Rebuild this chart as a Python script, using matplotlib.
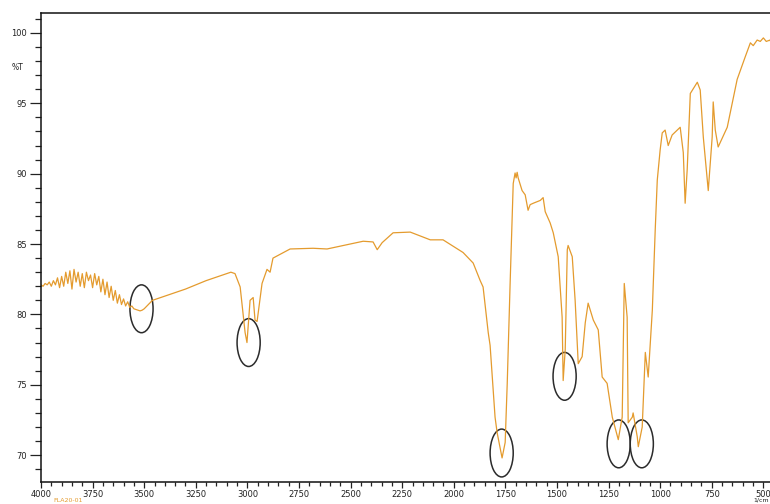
import matplotlib
matplotlib.use("Agg")
import matplotlib.pyplot as plt
from matplotlib.patches import Ellipse
from matplotlib.ticker import MultipleLocator

# ---- spectrum data (wavenumber cm-1, %T) ----
wavenumber = [
    4000, 3990, 3980, 3970, 3960, 3950, 3940, 3930, 3920, 3910, 3900, 3890, 3880, 3870,
    3860, 3850, 3840, 3830, 3820, 3810, 3800, 3790, 3780, 3770, 3760, 3750, 3740, 3730,
    3720, 3710, 3700, 3690, 3680, 3670, 3660, 3650, 3640, 3630, 3620, 3610, 3600, 3590,
    3580, 3570, 3560, 3550, 3540, 3530, 3520, 3510, 3500, 3480, 3460, 3440,
    3400, 3300, 3200, 3100, 3080, 3060, 3035, 3011, 3002, 2987, 2972, 2963, 2953, 2929,
    2905, 2890, 2876, 2793, 2682, 2614, 2439, 2391, 2371, 2347, 2294, 2211, 2114, 2052,
    1955, 1906, 1872, 1858, 1833, 1824, 1800, 1790, 1766, 1751, 1741, 1727, 1712, 1703,
    1698, 1693, 1688, 1669, 1654, 1640, 1630, 1615, 1581, 1567, 1557, 1533, 1518, 1494,
    1475, 1470, 1460, 1450, 1446, 1426, 1412, 1397, 1378, 1363, 1349, 1324, 1300, 1281,
    1257, 1232, 1203, 1184, 1174, 1160, 1155, 1135, 1131, 1111, 1106, 1087, 1072, 1058,
    1038, 1024, 1014, 1000, 990, 976, 961, 942, 903, 888, 879, 869, 854, 820, 806, 791,
    767, 748, 743, 733, 719, 675, 627, 588, 563, 549, 530, 515, 500, 486, 467, 457,
]
transmittance = [
    82.1, 82.0, 82.2, 82.1, 82.3, 82.0, 82.4, 82.1, 82.6, 81.9, 82.7, 82.0, 83.0, 82.2,
    83.1, 81.8, 83.2, 82.3, 83.0, 82.0, 82.9, 81.9, 83.0, 82.4, 82.8, 81.9, 82.9, 82.1,
    82.7, 81.6, 82.5, 81.4, 82.3, 81.2, 82.0, 81.0, 81.7, 80.8, 81.4, 80.7, 81.1, 80.6,
    80.9, 80.5, 80.6, 80.4, 80.35, 80.3, 80.25, 80.3, 80.4, 80.7, 81.0, 81.1,
    81.3, 81.8, 82.4, 82.9, 83.0, 82.9, 81.95, 78.7, 78.0, 81.0, 81.2, 79.6, 79.5, 82.2,
    83.2, 83.0, 84.0, 84.65, 84.7, 84.65, 85.2, 85.15, 84.6, 85.1, 85.8, 85.85, 85.3, 85.3,
    84.4, 83.65, 82.4, 81.95, 78.7, 77.8, 72.7, 71.6, 69.8, 70.9, 75.1, 82.2, 89.3, 90.05,
    89.7, 90.1, 89.7, 88.8, 88.5, 87.4, 87.8, 87.9, 88.1, 88.3, 87.3, 86.5, 85.8, 84.1,
    79.8, 75.3, 77.5, 84.6, 84.9, 84.1, 81.0, 76.5, 77.0, 79.4, 80.8, 79.6, 78.9, 75.55,
    75.1, 72.7, 71.1, 72.7, 82.2, 79.8, 72.3, 72.7, 73.0, 71.3, 70.6, 72.0, 77.3, 75.55,
    80.3, 86.0, 89.55, 91.7, 92.9, 93.1, 92.0, 92.75, 93.3, 91.5, 87.9, 90.3, 95.7, 96.5, 95.95, 92.6,
    88.8, 92.6, 95.1, 93.1, 91.9, 93.3, 96.7, 98.3, 99.3, 99.1, 99.5, 99.4, 99.65, 99.4, 99.5, 98.9,
]

# marked bands (centres of the drawn ellipses)
mark_wn = [3513, 2994, 1768, 1463, 1201, 1089]
mark_t = [80.4, 78.0, 70.15, 75.6, 70.8, 70.8]

x_ticks = [4000, 3750, 3500, 3250, 3000, 2750, 2500, 2250, 2000, 1750, 1500, 1250, 1000, 750, 500]
y_ticks = [70, 75, 80, 85, 90, 95, 100]

W, H = 770, 504
fig = plt.figure(figsize=(W / 100, H / 100), dpi=100)
fig.patch.set_facecolor("white")
ax = fig.add_axes([41 / W, (H - 482) / H, (784 - 41) / W, (482 - 13) / H])

ax.plot(wavenumber, transmittance, color="#E49B2E", lw=0.9)

for cx, cy in zip(mark_wn, mark_t):
    ax.add_patch(Ellipse((cx, cy), width=112, height=3.4, fill=False,
                         edgecolor="#2b2b2b", lw=1.1))

ax.set_xlim(4000, 400)
ax.set_ylim(68.09, 101.42)

ax.set_xticks(x_ticks)
ax.set_xticklabels([str(v) for v in x_ticks])
ax.xaxis.set_minor_locator(MultipleLocator(50))
ax.set_yticks(y_ticks)
ax.set_yticklabels([str(v) for v in y_ticks])
ax.yaxis.set_minor_locator(MultipleLocator(1))

ax.tick_params(axis="y", which="major", direction="out", length=8, width=0.9,
               labelsize=6, colors="#222222", pad=2)
ax.tick_params(axis="y", which="minor", direction="out", length=4, width=0.9, colors="#222222")
ax.tick_params(axis="x", which="major", direction="out", length=4, width=0.9,
               labelsize=6, colors="#222222", pad=2)
ax.tick_params(axis="x", which="minor", direction="out", length=3, width=0.9, colors="#222222")

for s in ["left", "bottom", "top"]:
    ax.spines[s].set_linewidth(1.1)
    ax.spines[s].set_color("#111111")
ax.spines["right"].set_visible(False)

fig.text(17 / W, 1 - 68 / H, "%T", fontsize=5.5, color="#222222", ha="center", va="center")
fig.text(53 / W, 1 - 503 / H, "FLA20-01", fontsize=4.5, color="#E49B2E", ha="left", va="bottom")
fig.text(769 / W, 1 - 503 / H, "1/cm", fontsize=4.5, color="#222222", ha="right", va="bottom")

fig.savefig("out.png", dpi=100)
